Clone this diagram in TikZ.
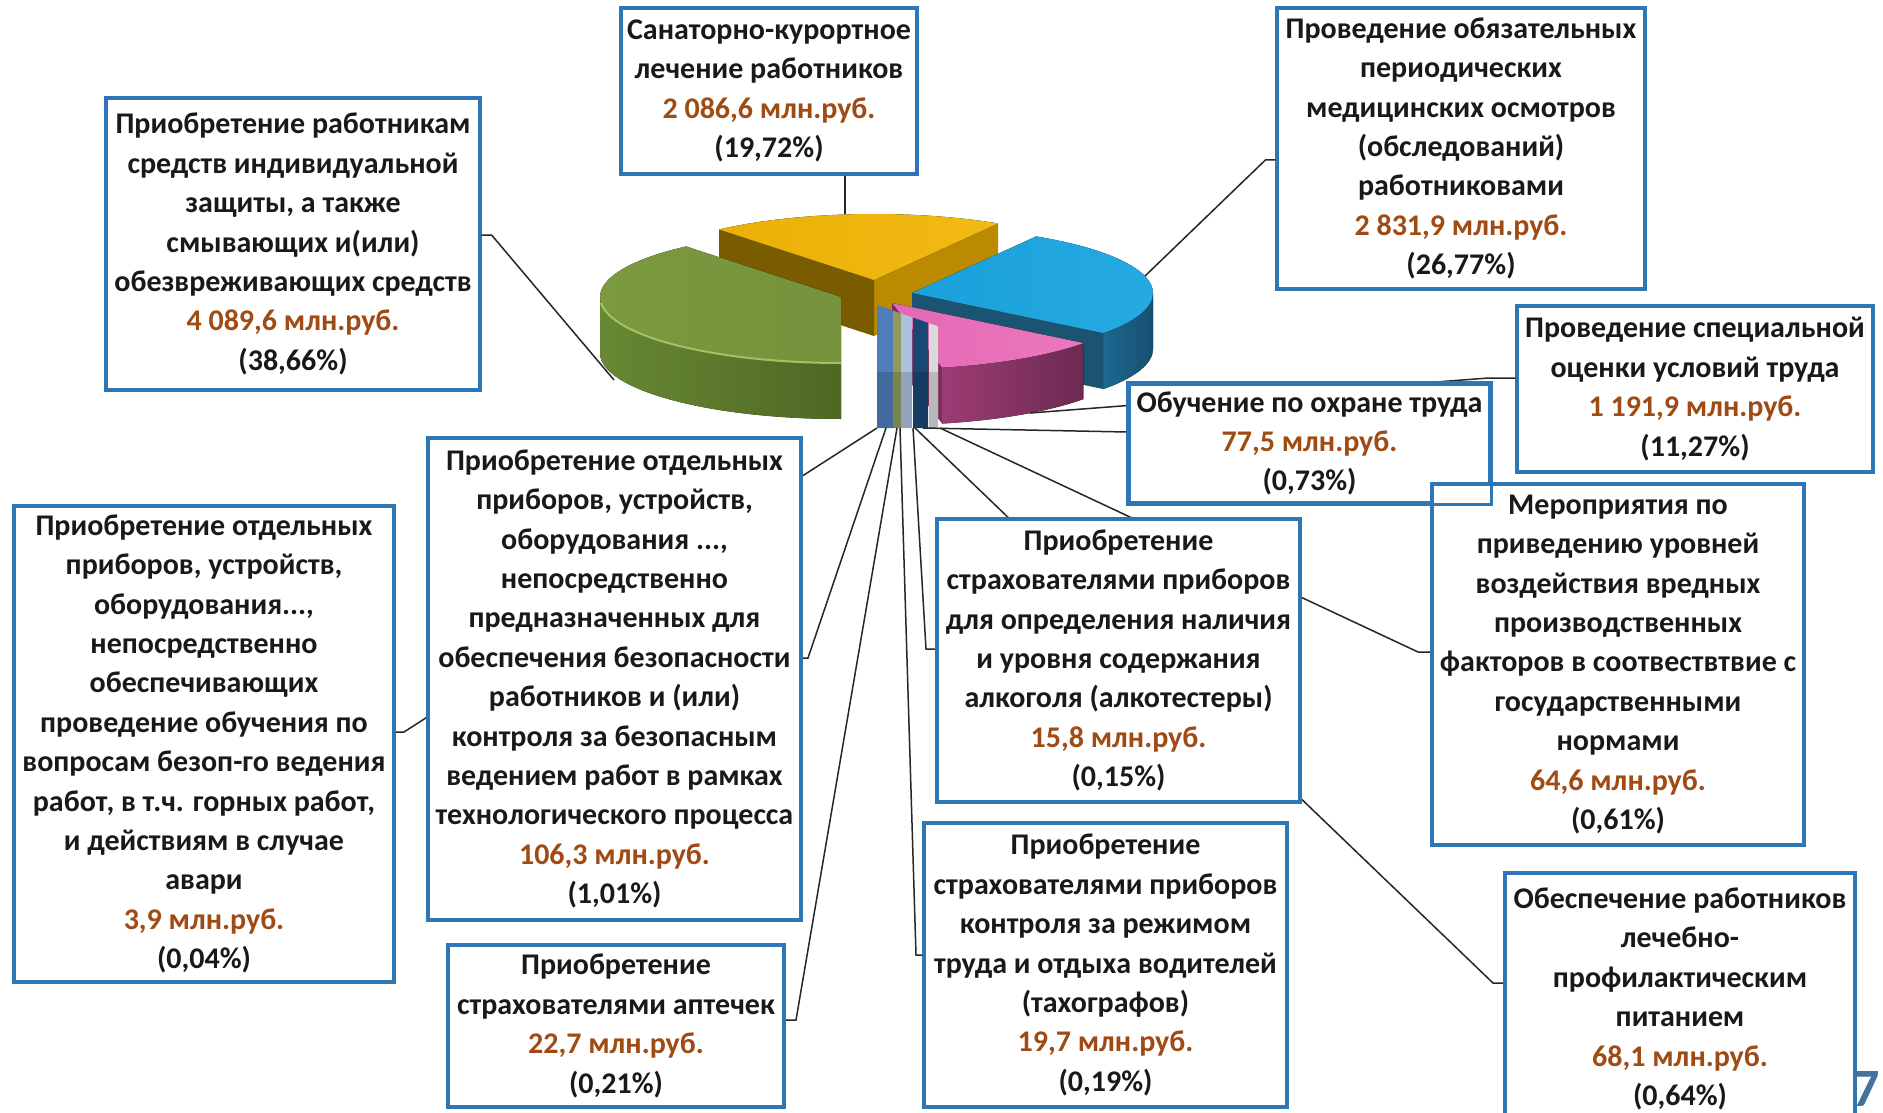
\documentclass[tikz,border=0pt]{standalone}
\usepackage{fontspec}
\setmainfont{Carlito}
\usetikzlibrary{calc}
\definecolor{boxblue}{RGB}{46,117,182}
\definecolor{money}{RGB}{160,74,20}
\definecolor{grtop}{RGB}{118,146,60}
\definecolor{grtop2}{RGB}{124,154,64}
\definecolor{grside}{RGB}{104,136,52}
\definecolor{grside2}{RGB}{78,104,36}
\definecolor{grrim}{RGB}{160,196,100}
\definecolor{yetop}{RGB}{234,176,6}
\definecolor{yetop2}{RGB}{242,186,20}
\definecolor{yeleft}{RGB}{122,92,0}
\definecolor{yeright}{RGB}{186,138,0}
\definecolor{bltop}{RGB}{26,160,218}
\definecolor{bltop2}{RGB}{38,170,226}
\definecolor{blcut}{RGB}{26,84,114}
\definecolor{blside}{RGB}{30,104,144}
\definecolor{blside2}{RGB}{22,80,112}
\definecolor{pktop}{RGB}{228,104,180}
\definecolor{pktop2}{RGB}{236,120,190}
\definecolor{pkside}{RGB}{156,60,116}
\definecolor{pkside2}{RGB}{108,42,82}
\definecolor{pkcut}{RGB}{122,46,90}
\definecolor{sblue}{RGB}{79,125,185}
\definecolor{solive}{RGB}{143,154,92}
\definecolor{slight}{RGB}{175,192,222}
\definecolor{snavy}{RGB}{27,72,114}
\definecolor{sgrey}{RGB}{217,217,217}
\definecolor{seven}{RGB}{67,114,159}
\newcommand{\money}[1]{\textcolor{money}{#1}}
\newcommand{\stripe}[3]{%
  \fill[#3] ({#1},{305+(#1-877)*0.35}) -- ({#2},{305+(#2-877)*0.35}) -- ({#2},428) -- ({#1},428) -- cycle;
  \fill[black,opacity=0.15] ({#1},372) rectangle ({#2},428);}
\begin{document}
\begin{tikzpicture}[x=1pt,y=-1pt,
  box/.style={draw=boxblue, line width=3.2pt, fill=white, align=center, inner sep=0pt,
    font=\fontsize{30}{39.4}\selectfont\bfseries, text=black!90},
  frame/.style={draw=boxblue, line width=3.2pt},
  conn/.style={draw=black!85, line width=1.5pt},
  rx/.style={x radius=241, y radius=66}]
\useasboundingbox (0,0) rectangle (1883,1113);
\clip (0,0) rectangle (1883,1113);
\fill[white] (0,0) rectangle (1883,1113);

% ---------- pie ----------
% yellow (visual 59..130), centre (874,280)
\coordinate (Y) at (874,280);
\fill[yeright] (Y) -- ($(Y)+(-59:241 and 66)$) -- ++(0,56) -- ($(Y)+(0,56)$) -- cycle;
\fill[yeleft] (Y) -- ($(Y)+(-130:241 and 66)$) -- ++(0,56) -- ($(Y)+(0,56)$) -- cycle;
\fill[left color=yetop, right color=yetop2] (Y) -- ($(Y)+(-59:241 and 66)$) arc[start angle=-59, end angle=-130, rx] -- cycle;
% green (visual 130..270), centre (841,297)
\coordinate (G) at (841,297);
\fill[left color=grside, right color=grside2] ($(G)+(-180:241 and 66)$) arc[start angle=-180, end angle=-270, rx] -- ++(0,56) arc[start angle=-270, end angle=-180, rx] -- cycle;
\fill[left color=grtop2, right color=grtop] (G) -- ($(G)+(-130:241 and 66)$) arc[start angle=-130, end angle=-270, rx] -- cycle;
\draw[grrim, line width=2pt] ($(G)+(-185:241 and 66)$) arc[start angle=-185, end angle=-270, rx];
% blue (visual -37.4..59), centre (912,293)
\coordinate (B) at (912,293);
\fill[blcut] (B) -- ($(B)+(37.4:241 and 66)$) -- ++(0,56) -- ($(B)+(0,56)$) -- cycle;
\fill[left color=blside, right color=blside2] ($(B)+(0:241 and 66)$) arc[start angle=0, end angle=37.4, rx] -- ++(0,56) arc[start angle=37.4, end angle=0, rx] -- cycle;
\fill[left color=bltop, right color=bltop2] (B) -- ($(B)+(37.4:241 and 66)$) arc[start angle=37.4, end angle=-59, rx] -- cycle;
% pink (visual -78..-37.4), centre (892,303)
\coordinate (P) at (892,303);
\fill[pkcut] (P) -- ($(P)+(78:241 and 66)$) -- ++(0,56) -- ($(P)+(0,56)$) -- cycle;
\fill[left color=pkside, right color=pkside2] ($(P)+(78:241 and 66)$) arc[start angle=78, end angle=37.4, rx] -- ++(0,56) arc[start angle=37.4, end angle=78, rx] -- cycle;
\fill[left color=pktop, right color=pktop2] (P) -- ($(P)+(78:241 and 66)$) arc[start angle=78, end angle=37.4, rx] -- cycle;
% small slices
\stripe{877}{893}{sblue}
\stripe{893}{901}{solive}
\stripe{901}{912}{slight}
\stripe{913}{928}{snavy}
\stripe{929}{938}{sgrey}

% ---------- slice points ----------
\coordinate (p1) at (614,380);
\coordinate (p2) at (845,214);
\coordinate (p3) at (1145,276);
\coordinate (p4) at (1030,413);
\coordinate (p5) at (923,428);
\coordinate (p6) at (940,428);
\coordinate (p7) at (915,428);
\coordinate (p8) at (913,428);
\coordinate (p9) at (900,428);
\coordinate (p10) at (897,428);
\coordinate (p11) at (886,428);
\coordinate (p12) at (877,428);

% ---------- boxes ----------
\path
 node[box, minimum width=374pt, minimum height=292pt] (b1) at (293,244)
  {Приобретение работникам\\средств индивидуальной\\защиты, а также\\смывающих и(или)\\обезвреживающих средств\\\money{4~089,6 млн.руб.}\\(38,66\%)}
 node[box, minimum width=296pt, minimum height=166pt] (b2) at (769,91)
  {Санаторно-курортное\\лечение работников\\\money{2~086,6 млн.руб.}\\(19,72\%)}
 node[box, minimum width=368pt, minimum height=281pt] (b3) at (1461,148.5)
  {Проведение обязательных\\периодических\\медицинских осмотров\\(обследований)\\работниковами\\\money{2~831,9 млн.руб.}\\(26,77\%)}
 node[box, minimum width=356pt, minimum height=166pt] (b4) at (1695,389)
  {Проведение специальной\\оценки условий труда\\\money{1~191,9 млн.руб.}\\(11,27\%)};

% ---------- connectors ----------
\draw[conn] (b1.east |- 0,235) -- ++(10,0) -- (p1);
\draw[conn] (b2.south -| 845,0) -- (p2);
\draw[conn] (b3.west |- 0,160) -- ++(-10,0) -- (p3);
\draw[conn] (b4.west |- 0,378) -- ++(-27,0) -- (p4);

\path
 node[box, minimum width=361pt, minimum height=119pt] (b5) at (1309.5,443.5)
  {Обучение по охране труда\\\money{77,5 млн.руб.}\\(0,73\%)};
\draw[conn] (b5.west |- 0,432) -- (p5);

\coordinate (b6pos) at (1618,664.5);
\coordinate (b7pos) at (1680,999);
\coordinate (b8pos) at (1118.5,660.5);
\coordinate (b9pos) at (1105.5,965);
\coordinate (b10pos) at (616,1026);
\coordinate (b11pos) at (614.5,679);
\coordinate (b12pos) at (204,744);

\draw[conn] ($(b6pos)+(-186,-12.5)$) -- ++(-14,0) -- (p6);
\draw[conn] ($(b7pos)+(-175,-16)$) -- ++(-12,0) -- (p7);
\draw[conn] ($(b8pos)+(-181.5,-11.5)$) -- ++(-11,0) -- (p8);
\draw[conn] ($(b9pos)+(-181.5,-10)$) -- ++(-8,0) -- (p9);
\draw[conn] ($(b10pos)+(168,-6)$) -- ++(12,0) -- (p10);
\draw[conn] ($(b11pos)+(186.5,-21)$) -- ++(7,0) -- (p11);
\draw[conn] ($(b12pos)+(190,-12)$) -- ++(10,0) -- (p12);

\path
 node[box, minimum width=372pt, minimum height=361pt] (b6) at (b6pos)
  {Мероприятия по\\приведению уровней\\воздействия вредных\\производственных\\факторов в соотвествтвие с\\государственными\\нормами\\\money{64,6 млн.руб.}\\(0,61\%)}
 node[box, minimum width=350pt, minimum height=252pt] (b7) at (b7pos)
  {Обеспечение работников\\лечебно-\\профилактическим\\питанием\\\money{68,1 млн.руб.}\\(0,64\%)}
 node[box, minimum width=363pt, minimum height=283pt] (b8) at (b8pos)
  {Приобретение\\страхователями приборов\\для определения наличия\\и уровня содержания\\алкоголя (алкотестеры)\\\money{15,8 млн.руб.}\\(0,15\%)}
 node[box, minimum width=363pt, minimum height=284pt] (b9) at (b9pos)
  {Приобретение\\страхователями приборов\\контроля за режимом\\труда и отдыха водителей\\(тахографов)\\\money{19,7 млн.руб.}\\(0,19\%)}
 node[box, minimum width=336pt, minimum height=162pt] (b10) at (b10pos)
  {Приобретение\\страхователями аптечек\\\money{22,7 млн.руб.}\\(0,21\%)}
 node[box, minimum width=373pt, minimum height=482pt] (b11) at (b11pos)
  {Приобретение отдельных\\приборов, устройств,\\оборудования ...,\\непосредственно\\предназначенных для\\обеспечения безопасности\\работников и (или)\\контроля за безопасным\\ведением работ в рамках\\технологического процесса\\\money{106,3 млн.руб.}\\(1,01\%)}
 node[box, minimum width=380pt, minimum height=476pt] (b12) at (b12pos)
  {Приобретение отдельных\\приборов, устройств,\\оборудования...,\\непосредственно\\обеспечивающих\\проведение обучения по\\вопросам безоп-го ведения\\работ, в т.ч. горных работ,\\и действиям в случае\\авари\\\money{3,9 млн.руб.}\\(0,04\%)};

% keep the frame of b5 visible where b6 overlaps it
\draw[frame] (b5.south west) rectangle (b5.north east);

\node[anchor=base west, inner sep=0pt, text=seven, font=\fontsize{54}{54}\selectfont\bfseries] (pg) at (1852,1106) {7};
\end{tikzpicture}
\end{document}
